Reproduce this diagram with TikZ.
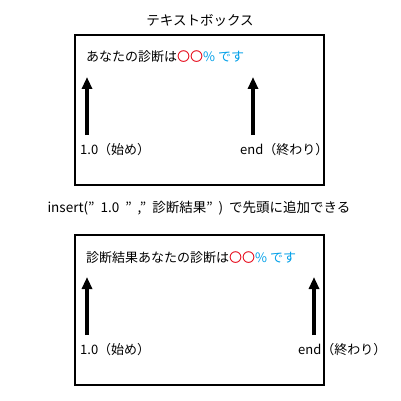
\documentclass[tikz,border=0pt]{standalone}
\usepackage{fontspec}
\setmainfont{Noto Sans CJK JP}
\usetikzlibrary{arrows.meta}
\definecolor{marured}{RGB}{230,0,18}
\definecolor{desublue}{RGB}{0,160,233}
\newcommand{\qgap}{\hspace{6pt}}

\begin{document}
\begin{tikzpicture}[x=1pt,y=-1pt,>={Triangle[length=12pt,width=10pt]},
  box/.style={draw,line width=2pt},
  pointer/.style={->,line width=4pt},
  label text/.style={anchor=west,inner sep=0pt,font=\fontsize{13}{15}\selectfont},
  line text/.style={anchor=west,inner sep=0pt,font=\fontsize{13}{15}\selectfont}]
  \useasboundingbox[fill=white] (0,0) rectangle (401,401);

  \node[font=\fontsize{13.5}{15}\selectfont] (title) at (200,20) {テキストボックス};

  % before insert
  \draw[box] (75,35) rectangle (324,185);
  \node[line text] (line1) at (86,57) {あなたの診断は\textcolor{marured}{〇〇}\textcolor{desublue}{\% です}};
  \coordinate (s1) at (87,135);
  \coordinate (s1top) at (87,77);
  \coordinate (e1) at (253,135);
  \coordinate (e1top) at (253,77);
  \node[label text] (start1) at (80,150) {1.0（始め）};
  \node[label text] (end1) at (240,150) {end（終わり）};

  \node[font=\fontsize{13.5}{15}\selectfont] (insert) at (199,208) {insert(”\qgap 1.0\qgap ”\qgap,”\qgap 診断結果”\qgap)\qgap で先頭に追加できる};

  % after insert
  \draw[box] (75,235) rectangle (324,385);
  \node[line text] (line2) at (86,258) {診断結果あなたの診断は\textcolor{marured}{〇〇}\textcolor{desublue}{\% です}};
  \coordinate (s2) at (87,335);
  \coordinate (s2top) at (87,277);
  \coordinate (e2) at (314,335);
  \coordinate (e2top) at (314,277);
  \node[label text] (start2) at (80,350) {1.0（始め）};
  \node[label text] (end2) at (298,350) {end（終わり）};

\path[pointer]
  (s1) edge (s1top)
  (e1) edge (e1top)
  (s2) edge (s2top)
  (e2) edge (e2top)
;
\end{tikzpicture}
\end{document}
